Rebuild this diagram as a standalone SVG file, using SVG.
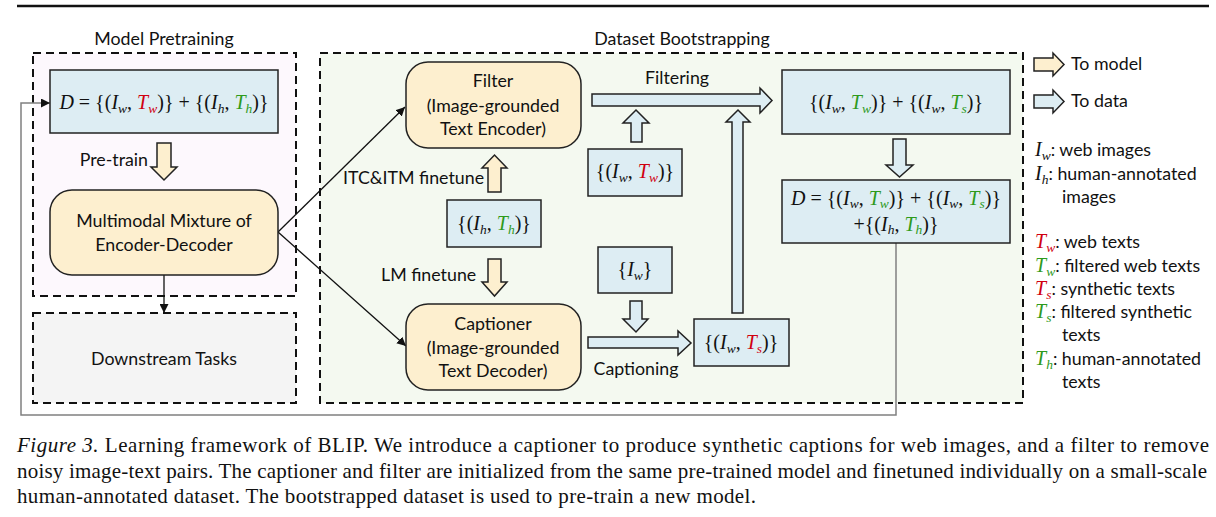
<svg xmlns="http://www.w3.org/2000/svg" width="1216" height="517" viewBox="0 0 1216 517">
<style>
.lbl{font-family:Lato,"Noto Sans","Liberation Sans",sans-serif;font-size:17.8px;fill:#111}
.m{font-family:"Liberation Serif","DejaVu Serif",serif;font-size:20px;fill:#111}
.i{font-style:italic}
.s{font-size:13.5px;font-style:italic}
.r{fill:#d00010}
.g{fill:#2e9a1c}
.dash{stroke:#111;stroke-width:2;stroke-dasharray:8 5;}
.data{fill:#ddedf3;stroke:#222;stroke-width:1.5}
.model{fill:#fdefcf;stroke:#222;stroke-width:1.5}
.ln{stroke:#111;stroke-width:1.3;fill:none}
.cap{font-family:"Liberation Serif",serif;font-size:21px;fill:#111}
</style>
<defs>
<marker id="ah" viewBox="0 0 10 10" refX="10" refY="5" markerWidth="9" markerHeight="9" markerUnits="userSpaceOnUse" orient="auto"><path d="M0,0 L10,5 L0,10 z" fill="#111"/></marker>
</defs>
<rect width="1216" height="517" fill="#fff"/>
<line x1="17" y1="6" x2="1209" y2="6" stroke="#111" stroke-width="2.5"/>

<g id="model-pretraining">
<rect class="dash" x="33" y="53" width="263" height="243" fill="#fdf8fd"/>
<text class="lbl" x="164" y="45" text-anchor="middle">Model Pretraining</text>
</g>
<g id="downstream">
<rect class="dash" x="33" y="313" width="263" height="90" fill="#f4f4f4"/>
<text class="lbl" x="164" y="365" text-anchor="middle">Downstream Tasks</text>
</g>
<g id="dataset-bootstrapping">
<rect class="dash" x="320" y="53" width="703" height="350" fill="#f4f9f0"/>
<text class="lbl" x="682" y="45" text-anchor="middle">Dataset Bootstrapping</text>
</g>

<g id="connectors">
<polyline points="896,243 896,415 21,415 21,103 50,103" fill="none" stroke="#808080" stroke-width="1.5" marker-end="url(#ah)"/>
<line class="ln" x1="164" y1="275" x2="164" y2="313" marker-end="url(#ah)"/>
<line class="ln" x1="278" y1="232" x2="405" y2="107" marker-end="url(#ah)"/>
<line class="ln" x1="278" y1="232" x2="406" y2="346" marker-end="url(#ah)"/>
<path class="model" d="M157,143 H171 V167 H177 L164,180 L151,167 H157 Z"/>
<path class="model" d="M488,192 V168 H482 L494.5,155 L507,168 H501 V192 Z"/>
<path class="model" d="M488,259 H501 V282 H507 L494.5,296 L482,282 H488 Z"/>
<path class="data" d="M592,94 H760 V88 L772,100.5 L760,113 V106 H592 Z"/>
<path class="data" d="M631,142 V123 H623 L636,110 L649,123 H642 V142 Z"/>
<path class="data" d="M732,313 V122 H726 L738,110 L750,122 H743 V313 Z"/>
<path class="data" d="M630,301 H642 V319 H648 L636,332 L623,319 H630 Z"/>
<path class="data" d="M588,337 H678 V331 L691,343 L678,355 V348 H588 Z"/>
<path class="data" d="M893,139 H906 V165 H913 L899.5,177 L886,165 H893 Z"/>
<text class="lbl" x="148" y="166" text-anchor="end">Pre-train</text>
<text class="lbl" x="343" y="184">ITC&amp;ITM finetune</text>
<text class="lbl" x="381" y="281">LM finetune</text>
<text class="lbl" x="677" y="84" text-anchor="middle">Filtering</text>
<text class="lbl" x="636" y="375" text-anchor="middle">Captioning</text>
</g>

<g id="d-pretrain">
<rect class="data" x="50" y="70" width="228" height="63"/>
<text class="m" x="164" y="109" text-anchor="middle"><tspan class="i">D</tspan> = {(<tspan class="i">I</tspan><tspan class="s" baseline-shift="-4">w</tspan>, <tspan class="i r">T</tspan><tspan class="s r" baseline-shift="-4">w</tspan>)} + {(<tspan class="i">I</tspan><tspan class="s" baseline-shift="-4">h</tspan>, <tspan class="i g">T</tspan><tspan class="s g" baseline-shift="-4">h</tspan>)}</text>
</g>
<g id="mixture">
<rect class="model" x="50" y="190" width="228" height="85" rx="22"/>
<text class="lbl" x="164" y="227" text-anchor="middle">Multimodal Mixture of</text>
<text class="lbl" x="164" y="251" text-anchor="middle">Encoder-Decoder</text>
</g>
<g id="filter">
<rect class="model" x="406" y="62" width="175" height="86" rx="22"/>
<text class="lbl" x="493" y="87" text-anchor="middle">Filter</text>
<text class="lbl" x="493" y="112" text-anchor="middle">(Image-grounded</text>
<text class="lbl" x="493" y="135" text-anchor="middle">Text Encoder)</text>
</g>
<g id="captioner">
<rect class="model" x="406" y="304" width="175" height="86" rx="22"/>
<text class="lbl" x="493" y="330" text-anchor="middle">Captioner</text>
<text class="lbl" x="493" y="354" text-anchor="middle">(Image-grounded</text>
<text class="lbl" x="493" y="377" text-anchor="middle">Text Decoder)</text>
</g>
<g id="ih-th">
<rect class="data" x="447" y="200" width="94" height="47"/>
<text class="m" x="494" y="230" text-anchor="middle">{(<tspan class="i">I</tspan><tspan class="s" baseline-shift="-4">h</tspan>, <tspan class="i g">T</tspan><tspan class="s g" baseline-shift="-4">h</tspan>)}</text>
</g>
<g id="iw-tw">
<rect class="data" x="588" y="149" width="94" height="47"/>
<text class="m" x="635" y="178" text-anchor="middle">{(<tspan class="i">I</tspan><tspan class="s" baseline-shift="-4">w</tspan>, <tspan class="i r">T</tspan><tspan class="s r" baseline-shift="-4">w</tspan>)}</text>
</g>
<g id="iw">
<rect class="data" x="598" y="247" width="74" height="46"/>
<text class="m" x="635" y="276" text-anchor="middle">{<tspan class="i">I</tspan><tspan class="s" baseline-shift="-4">w</tspan>}</text>
</g>
<g id="iw-ts">
<rect class="data" x="694" y="319" width="95" height="47"/>
<text class="m" x="741" y="349" text-anchor="middle">{(<tspan class="i">I</tspan><tspan class="s" baseline-shift="-4">w</tspan>, <tspan class="i r">T</tspan><tspan class="s r" baseline-shift="-4">s</tspan>)}</text>
</g>
<g id="filtered-data">
<rect class="data" x="782" y="70" width="228" height="64"/>
<text class="m" x="896" y="109" text-anchor="middle">{(<tspan class="i">I</tspan><tspan class="s" baseline-shift="-4">w</tspan>, <tspan class="i g">T</tspan><tspan class="s g" baseline-shift="-4">w</tspan>)} + {(<tspan class="i">I</tspan><tspan class="s" baseline-shift="-4">w</tspan>, <tspan class="i g">T</tspan><tspan class="s g" baseline-shift="-4">s</tspan>)}</text>
</g>
<g id="d-new">
<rect class="data" x="782" y="180" width="228" height="63"/>
<text class="m" x="896" y="205" text-anchor="middle"><tspan class="i">D</tspan> = {(<tspan class="i">I</tspan><tspan class="s" baseline-shift="-3">w</tspan>, <tspan class="i g">T</tspan><tspan class="s g" baseline-shift="-3">w</tspan>)} + {(<tspan class="i">I</tspan><tspan class="s" baseline-shift="-3">w</tspan>, <tspan class="i g">T</tspan><tspan class="s g" baseline-shift="-3">s</tspan>)}</text>
<text class="m" x="896" y="231" text-anchor="middle">+{(<tspan class="i">I</tspan><tspan class="s" baseline-shift="-3">h</tspan>, <tspan class="i g">T</tspan><tspan class="s g" baseline-shift="-3">h</tspan>)}</text>
</g>

<g id="legend">
<path class="model" d="M1034,58 H1053 V53 L1064,64.5 L1053,76 V71 H1034 Z"/>
<text class="lbl" x="1071" y="70">To model</text>
<path class="data" d="M1034,95 H1053 V90 L1064,101.5 L1053,113 V108 H1034 Z"/>
<text class="lbl" x="1071" y="107">To data</text>
<text class="lbl" x="1035" y="156"><tspan class="m i">I</tspan><tspan class="m s" baseline-shift="-4">w</tspan>: web images</text>
<text class="lbl" x="1035" y="180"><tspan class="m i">I</tspan><tspan class="m s" baseline-shift="-4">h</tspan>: human-annotated</text>
<text class="lbl" x="1062" y="203">images</text>
<text class="lbl" x="1035" y="248"><tspan class="m i r">T</tspan><tspan class="m s r" baseline-shift="-4">w</tspan>: web texts</text>
<text class="lbl" x="1035" y="272"><tspan class="m i g">T</tspan><tspan class="m s g" baseline-shift="-4">w</tspan>: filtered web texts</text>
<text class="lbl" x="1035" y="295"><tspan class="m i r">T</tspan><tspan class="m s r" baseline-shift="-4">s</tspan>: synthetic texts</text>
<text class="lbl" x="1035" y="318"><tspan class="m i g">T</tspan><tspan class="m s g" baseline-shift="-4">s</tspan>: filtered synthetic</text>
<text class="lbl" x="1062" y="341">texts</text>
<text class="lbl" x="1035" y="365"><tspan class="m i g">T</tspan><tspan class="m s g" baseline-shift="-4">h</tspan>: human-annotated</text>
<text class="lbl" x="1062" y="388">texts</text>
</g>

<g id="caption">
<text class="cap" x="17" y="452" textLength="1192" lengthAdjust="spacing"><tspan font-style="italic">Figure 3.</tspan> Learning framework of BLIP. We introduce a captioner to produce synthetic captions for web images, and a filter to remove</text>
<text class="cap" x="17" y="478" textLength="1190" lengthAdjust="spacing">noisy image-text pairs. The captioner and filter are initialized from the same pre-trained model and finetuned individually on a small-scale</text>
<text class="cap" x="17" y="503" textLength="739" lengthAdjust="spacing">human-annotated dataset. The bootstrapped dataset is used to pre-train a new model.</text>
</g>
</svg>
